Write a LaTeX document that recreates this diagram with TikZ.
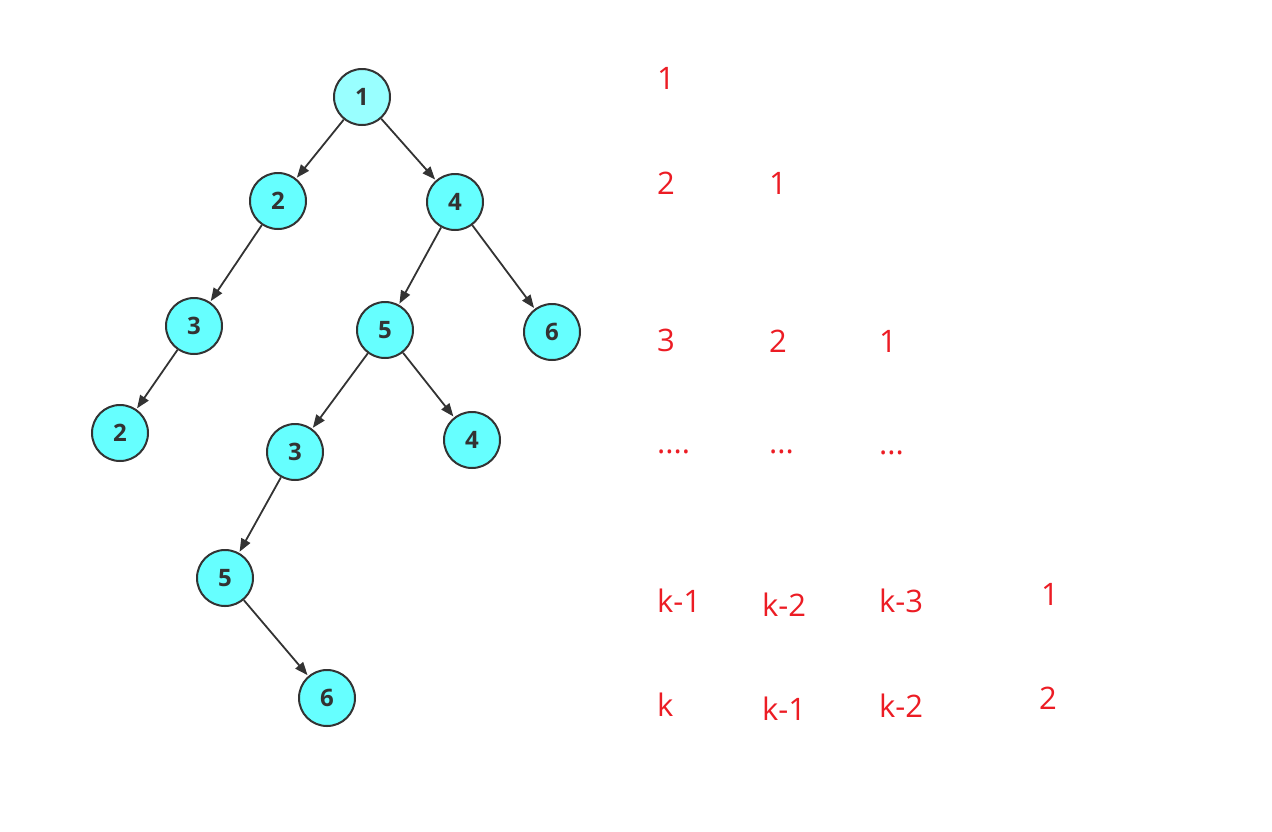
\documentclass[tikz,border=0pt]{standalone}
\usepackage{fontspec}
\setmainfont{Open Sans}
\usetikzlibrary{arrows.meta}
\definecolor{nodefill}{HTML}{66FFFF}
\definecolor{rootfill}{HTML}{99FFFF}
\definecolor{edgecol}{HTML}{333333}
\definecolor{lblcol}{HTML}{EC1C24}
\begin{document}
\begin{tikzpicture}[x=1pt,y=-1pt,
 tnode/.style={circle, draw=edgecol, line width=2pt, fill=nodefill, minimum size=56pt, inner sep=0pt, font=\fontsize{24}{24}\selectfont\bfseries, text=edgecol},
 tedge/.style={draw=edgecol, line width=1.8pt, -{Triangle[length=13pt,width=10pt]}, shorten >=1pt},
 lab/.style={anchor=west, text=lblcol, font=\fontsize{31}{31}\selectfont, inner sep=0pt}]
\useasboundingbox (0,0) rectangle (1272,831);
% tree nodes
\node[tnode, fill=rootfill] (n1) at (362,97) {1};
\node[tnode] (n2) at (278,201) {2};
\node[tnode] (n4) at (455,202) {4};
\node[tnode] (n3a) at (194,326) {3};
\node[tnode] (n5a) at (385,330) {5};
\node[tnode] (n6a) at (552,332) {6};
\node[tnode] (n2b) at (120,433) {2};
\node[tnode] (n3b) at (295,452) {3};
\node[tnode] (n4b) at (472,440) {4};
\node[tnode] (n5b) at (225,578) {5};
\node[tnode] (n6b) at (327,698) {6};
% edges
\draw[tedge] (n1) -- (n2);
\draw[tedge] (n1) -- (n4);
\draw[tedge] (n2) -- (n3a);
\draw[tedge] (n4) -- (n5a);
\draw[tedge] (n4) -- (n6a);
\draw[tedge] (n3a) -- (n2b);
\draw[tedge] (n5a) -- (n3b);
\draw[tedge] (n5a) -- (n4b);
\draw[tedge] (n3b) -- (n5b);
\draw[tedge] (n5b) -- (n6b);
% red labels
\node[lab] (r1c1) at (657,78) {1};
\node[lab] (r2c1) at (657,183) {2};
\node[lab] (r2c2) at (769,183) {1};
\node[lab] (r3c1) at (657,340) {3};
\node[lab] (r3c2) at (769,341) {2};
\node[lab] (r3c3) at (879,341) {1};
\node[lab] (r4c1) at (657,452) {....};
\node[lab] (r4c2) at (769,452) {...};
\node[lab] (r4c3) at (879,453) {...};
\node[lab] (r5c1) at (657,601) {k-1};
\node[lab] (r5c2) at (762,605) {k-2};
\node[lab] (r5c3) at (879,601) {k-3};
\node[lab] (r5c4) at (1041,594) {1};
\node[lab] (r6c1) at (657,705) {k};
\node[lab] (r6c2) at (762,709) {k-1};
\node[lab] (r6c3) at (879,706) {k-2};
\node[lab] (r6c4) at (1039,698) {2};
\end{tikzpicture}
\end{document}
